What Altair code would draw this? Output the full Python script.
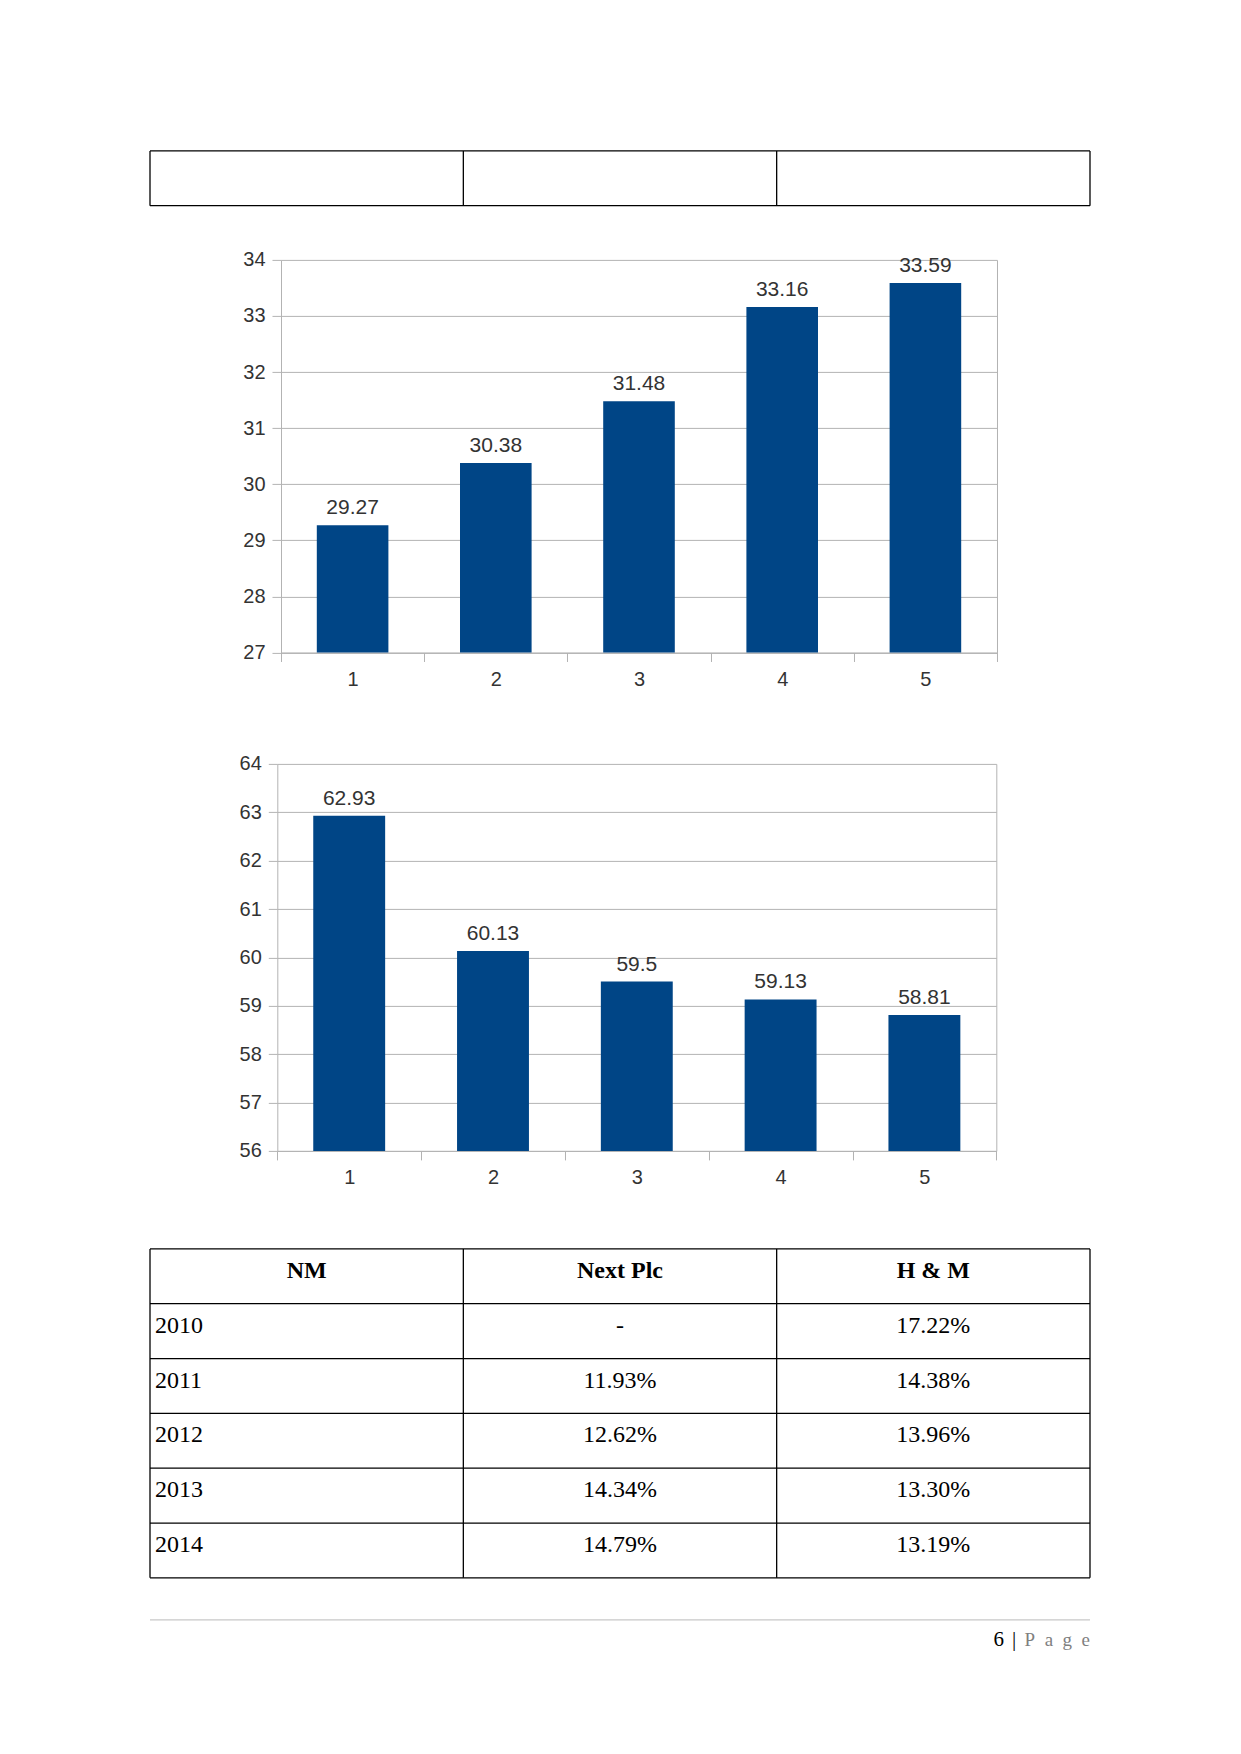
import altair as alt
import pandas as pd

# ---------------- data ----------------
categories = ["1", "2", "3", "4", "5"]
values_top = [29.27, 30.38, 31.48, 33.16, 33.59]
labels_top = ["29.27", "30.38", "31.48", "33.16", "33.59"]
values_bottom = [62.93, 60.13, 59.5, 59.13, 58.81]
labels_bottom = ["62.93", "60.13", "59.5", "59.13", "58.81"]

table_header = ["NM", "Next Plc", "H & M"]
table_years = ["2010", "2011", "2012", "2013", "2014"]
table_next = ["-", "11.93%", "12.62%", "14.34%", "14.79%"]
table_hm = ["17.22%", "14.38%", "13.96%", "13.30%", "13.19%"]

page_number = "6"
page_sep = "|"
page_word = "P\u2002a\u2002g\u2002e"

# ---------------- styles ----------------
BLUE = "#004586"
GRID = "#b3b3b3"
TXT = "#333333"
SANS = "Liberation Sans"
SERIF = "Liberation Serif"
PAGE_W = 940


def spacer(h):
    return (
        alt.Chart(pd.DataFrame({"s": [0]}))
        .mark_point(opacity=0, size=0, strokeWidth=0)
        .encode(x=alt.value(1), y=alt.value(1))
        .properties(width=2, height=h)
    )


def bar_panel(cats, vals, labels, ymin, ymax, left, plot_w, plot_h):
    df = pd.DataFrame({"cat": cats, "val": vals, "label": labels})
    W = left + plot_w
    xs = alt.Scale(domain=cats, range=[left, W], paddingInner=0, paddingOuter=0)
    ys = alt.Scale(domain=[ymin, ymax], nice=False, zero=False)
    xaxis = alt.Axis(
        title=None, labelAngle=0, tickBand="extent", grid=False,
        domainColor=GRID, tickColor=GRID, tickSize=9,
        labelFont=SANS, labelFontSize=20, labelColor=TXT, labelPadding=8,
    )
    yaxis = alt.Axis(
        title=None, values=list(range(ymin, ymax + 1)), offset=-left,
        grid=True, gridColor=GRID, domainColor=GRID, tickColor=GRID, tickSize=9,
        labelFont=SANS, labelFontSize=20, labelColor=TXT, labelPadding=7,
    )
    raxis = alt.Axis(
        title=None, orient="right", labels=False, ticks=False, grid=False,
        domain=True, domainColor=GRID,
    )
    base = alt.Chart(df)
    bars = base.mark_bar(color=BLUE, width=alt.RelativeBandSize(0.5)).encode(
        x=alt.X("cat:N", scale=xs, sort=cats, axis=xaxis),
        y=alt.Y("val:Q", scale=ys, axis=yaxis),
        y2=alt.datum(ymin),
    )
    text = base.mark_text(
        dy=-11, baseline="alphabetic", align="center",
        font=SANS, fontSize=21, color=TXT,
    ).encode(
        x=alt.X("cat:N", scale=xs, sort=cats, axis=xaxis),
        y=alt.Y("val:Q", scale=ys, axis=None),
        text="label:N",
    )
    right = base.mark_point(opacity=0, size=0, strokeWidth=0).encode(
        x=alt.X("cat:N", scale=xs, sort=cats, axis=xaxis),
        y=alt.Y("val:Q", scale=ys, axis=raxis),
    )
    return (
        alt.layer(bars, text, right)
        .resolve_axis(y="independent")
        .properties(width=W, height=plot_h)
    )


def table_panel(header, columns, width, row_h, font_size=24):
    ncols = len(header)
    nrows = (len(columns[0]) if columns else 0) + 1
    H = row_h * nrows
    xs = alt.Scale(domain=[0, ncols], range=[0, width], nice=False, zero=False)
    ys = alt.Scale(domain=[0, nrows], range=[0, H], nice=False, zero=False)
    hl = pd.DataFrame({"r": list(range(nrows + 1)), "c0": 0, "c1": ncols})
    vl = pd.DataFrame({"c": list(range(ncols + 1)), "r0": 0, "r1": nrows})
    hrules = alt.Chart(hl).mark_rule(color="black", strokeWidth=1.3).encode(
        x=alt.X("c0:Q", scale=xs, axis=None), x2="c1:Q",
        y=alt.Y("r:Q", scale=ys, axis=None),
    )
    vrules = alt.Chart(vl).mark_rule(color="black", strokeWidth=1.3).encode(
        x=alt.X("c:Q", scale=xs, axis=None),
        y=alt.Y("r0:Q", scale=ys, axis=None), y2="r1:Q",
    )
    layers = [hrules, vrules]
    if columns:
        head = pd.DataFrame({"c": [i + 0.5 for i in range(ncols)], "r": 0, "t": header})
        layers.append(
            alt.Chart(head).mark_text(
                font=SERIF, fontSize=font_size, fontWeight="bold", color="black",
                baseline="alphabetic", align="center", dy=29,
            ).encode(
                x=alt.X("c:Q", scale=xs, axis=None),
                y=alt.Y("r:Q", scale=ys, axis=None), text="t:N",
            )
        )
        first = pd.DataFrame({"c": 0, "r": list(range(1, nrows)), "t": columns[0]})
        layers.append(
            alt.Chart(first).mark_text(
                font=SERIF, fontSize=font_size, color="black",
                baseline="alphabetic", align="left", dx=5, dy=29,
            ).encode(
                x=alt.X("c:Q", scale=xs, axis=None),
                y=alt.Y("r:Q", scale=ys, axis=None), text="t:N",
            )
        )
        rest = []
        for ci, col in enumerate(columns[1:], start=1):
            for ri, v in enumerate(col, start=1):
                rest.append({"c": ci + 0.5, "r": ri, "t": v})
        layers.append(
            alt.Chart(pd.DataFrame(rest)).mark_text(
                font=SERIF, fontSize=font_size, color="black",
                baseline="alphabetic", align="center", dy=29,
            ).encode(
                x=alt.X("c:Q", scale=xs, axis=None),
                y=alt.Y("r:Q", scale=ys, axis=None), text="t:N",
            )
        )
    return alt.layer(*layers).properties(width=width, height=H)


def footer_panel(width):
    xs = alt.Scale(domain=[0, 1], range=[0, width], nice=False, zero=False)
    ys = alt.Scale(domain=[0, 1], range=[0, 40], nice=False, zero=False)
    line = alt.Chart(pd.DataFrame({"a": [0], "b": [1], "y": [0]})).mark_rule(
        color="#c8c8c8", strokeWidth=1.2
    ).encode(
        x=alt.X("a:Q", scale=xs, axis=None), x2="b:Q",
        y=alt.Y("y:Q", scale=ys, axis=None),
    )
    tdf = pd.DataFrame({"x": [1], "y": [0], "n": [page_number], "s": [page_sep], "w": [page_word]})
    tb = alt.Chart(tdf)
    enc = dict(x=alt.X("x:Q", scale=xs, axis=None), y=alt.Y("y:Q", scale=ys, axis=None))
    word = tb.mark_text(font=SERIF, fontSize=19, color="#7f7f7f", align="right",
                        baseline="alphabetic", dy=26).encode(text="w:N", **enc)
    sep = tb.mark_text(font=SERIF, fontSize=21, color="black", align="center",
                       baseline="alphabetic", dy=26, dx=-76).encode(text="s:N", **enc)
    num = tb.mark_text(font=SERIF, fontSize=21, color="black", align="right",
                       baseline="alphabetic", dy=26, dx=-86).encode(text="n:N", **enc)
    return alt.layer(line, word, sep, num).properties(width=width, height=40)


top_table = table_panel(["", "", ""], None, PAGE_W, 54.8)
chart_top = bar_panel(categories, values_top, labels_top, 27, 34, 131, 716, 392.6)
chart_bottom = bar_panel(categories, values_bottom, labels_bottom, 56, 64, 127.3, 719, 387)
bottom_table = table_panel(table_header, [table_years, table_next, table_hm], PAGE_W, 54.83)
footer = footer_panel(PAGE_W)

chart = (
    alt.vconcat(
        top_table,
        spacer(53.6),
        chart_top,
        spacer(110.7),
        chart_bottom,
        spacer(98),
        bottom_table,
        spacer(42),
        footer,
        spacing=0,
        bounds="flush",
    )
    .properties(
        padding={"left": 140, "top": 140.9, "right": 10, "bottom": 10},
        background="white",
    )
    .configure_view(stroke="transparent")
)

chart.save("out.html", embed_options={"renderer": "svg", "actions": False})
